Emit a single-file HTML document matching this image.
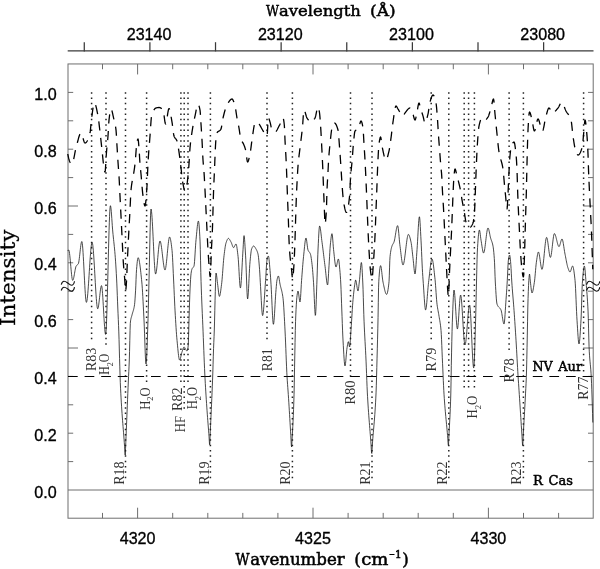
<!DOCTYPE html><html><head><meta charset="utf-8"><title>Spectrum</title>
<style>html,body{margin:0;padding:0;background:#fff}svg{display:block}.s{font-family:"Liberation Sans",sans-serif;font-size:16.1px;stroke:#000;stroke-width:0.32px}.r{font-family:"Liberation Serif",serif}.d{font-family:"DejaVu Serif","Liberation Serif",serif}.b{stroke:#000;stroke-width:0.5px}</style></head><body>
<svg width="600" height="569" viewBox="0 0 600 569">
<rect width="600" height="569" fill="#fff"/>
<g stroke="#6e6e6e" stroke-width="1" fill="none">
<rect x="68.0" y="63.95" width="525.2" height="454.25000000000006"/>
<line x1="68.0" y1="490" x2="593.2" y2="490"/>
<line x1="102.5" y1="518.2" x2="102.5" y2="512.9000000000001"/>
<line x1="102.5" y1="63.95" x2="102.5" y2="69.25"/>
<line x1="137.6" y1="518.2" x2="137.6" y2="507.70000000000005"/>
<line x1="137.6" y1="63.95" x2="137.6" y2="74.45"/>
<line x1="172.7" y1="518.2" x2="172.7" y2="512.9000000000001"/>
<line x1="172.7" y1="63.95" x2="172.7" y2="69.25"/>
<line x1="207.8" y1="518.2" x2="207.8" y2="512.9000000000001"/>
<line x1="207.8" y1="63.95" x2="207.8" y2="69.25"/>
<line x1="242.8" y1="518.2" x2="242.8" y2="512.9000000000001"/>
<line x1="242.8" y1="63.95" x2="242.8" y2="69.25"/>
<line x1="277.9" y1="518.2" x2="277.9" y2="512.9000000000001"/>
<line x1="277.9" y1="63.95" x2="277.9" y2="69.25"/>
<line x1="313.0" y1="518.2" x2="313.0" y2="507.70000000000005"/>
<line x1="313.0" y1="63.95" x2="313.0" y2="74.45"/>
<line x1="348.1" y1="518.2" x2="348.1" y2="512.9000000000001"/>
<line x1="348.1" y1="63.95" x2="348.1" y2="69.25"/>
<line x1="383.2" y1="518.2" x2="383.2" y2="512.9000000000001"/>
<line x1="383.2" y1="63.95" x2="383.2" y2="69.25"/>
<line x1="418.2" y1="518.2" x2="418.2" y2="512.9000000000001"/>
<line x1="418.2" y1="63.95" x2="418.2" y2="69.25"/>
<line x1="453.3" y1="518.2" x2="453.3" y2="512.9000000000001"/>
<line x1="453.3" y1="63.95" x2="453.3" y2="69.25"/>
<line x1="488.4" y1="518.2" x2="488.4" y2="507.70000000000005"/>
<line x1="488.4" y1="63.95" x2="488.4" y2="74.45"/>
<line x1="523.5" y1="518.2" x2="523.5" y2="512.9000000000001"/>
<line x1="523.5" y1="63.95" x2="523.5" y2="69.25"/>
<line x1="558.6" y1="518.2" x2="558.6" y2="512.9000000000001"/>
<line x1="558.6" y1="63.95" x2="558.6" y2="69.25"/>
<line x1="68.0" y1="461.6" x2="73.2" y2="461.6"/>
<line x1="593.2" y1="461.6" x2="588.0" y2="461.6"/>
<line x1="68.0" y1="433.2" x2="73.2" y2="433.2"/>
<line x1="593.2" y1="433.2" x2="588.0" y2="433.2"/>
<line x1="68.0" y1="404.8" x2="73.2" y2="404.8"/>
<line x1="593.2" y1="404.8" x2="588.0" y2="404.8"/>
<line x1="68.0" y1="376.4" x2="73.2" y2="376.4"/>
<line x1="593.2" y1="376.4" x2="588.0" y2="376.4"/>
<line x1="68.0" y1="348.0" x2="78.0" y2="348.0"/>
<line x1="593.2" y1="348.0" x2="583.2" y2="348.0"/>
<line x1="68.0" y1="319.6" x2="73.2" y2="319.6"/>
<line x1="593.2" y1="319.6" x2="588.0" y2="319.6"/>
<line x1="68.0" y1="291.2" x2="73.2" y2="291.2"/>
<line x1="593.2" y1="291.2" x2="588.0" y2="291.2"/>
<line x1="68.0" y1="262.8" x2="73.2" y2="262.8"/>
<line x1="593.2" y1="262.8" x2="588.0" y2="262.8"/>
<line x1="68.0" y1="234.4" x2="73.2" y2="234.4"/>
<line x1="593.2" y1="234.4" x2="588.0" y2="234.4"/>
<line x1="68.0" y1="206.0" x2="78.0" y2="206.0"/>
<line x1="593.2" y1="206.0" x2="583.2" y2="206.0"/>
<line x1="68.0" y1="177.6" x2="73.2" y2="177.6"/>
<line x1="593.2" y1="177.6" x2="588.0" y2="177.6"/>
<line x1="68.0" y1="149.2" x2="73.2" y2="149.2"/>
<line x1="593.2" y1="149.2" x2="588.0" y2="149.2"/>
<line x1="68.0" y1="120.8" x2="73.2" y2="120.8"/>
<line x1="593.2" y1="120.8" x2="588.0" y2="120.8"/>
<line x1="68.0" y1="92.4" x2="73.2" y2="92.4"/>
<line x1="593.2" y1="92.4" x2="588.0" y2="92.4"/>
</g>
<g stroke="#3a3a3a" stroke-width="1.25" fill="none">
<line x1="67.7" y1="50.85" x2="593.5" y2="50.85"/>
<line x1="84.28" y1="51.4" x2="84.28" y2="42.2"/>
<line x1="149.90" y1="51.4" x2="149.90" y2="42.2"/>
<line x1="215.52" y1="51.4" x2="215.52" y2="42.2"/>
<line x1="281.14" y1="51.4" x2="281.14" y2="42.2"/>
<line x1="346.76" y1="51.4" x2="346.76" y2="42.2"/>
<line x1="412.38" y1="51.4" x2="412.38" y2="42.2"/>
<line x1="478.00" y1="51.4" x2="478.00" y2="42.2"/>
<line x1="543.62" y1="51.4" x2="543.62" y2="42.2"/>
</g>
<g stroke="#222" stroke-width="1.5" stroke-dasharray="1.5 3.841" fill="none">
<line x1="91.6" y1="92.15" x2="91.6" y2="339.4"/>
<line x1="106.0" y1="92.15" x2="106.0" y2="344.7"/>
<line x1="125.5" y1="92.15" x2="125.5" y2="478.3"/>
<line x1="146.6" y1="92.15" x2="146.6" y2="382.1"/>
<line x1="180.9" y1="92.15" x2="180.9" y2="382.1"/>
<line x1="184.2" y1="92.15" x2="184.2" y2="408.8"/>
<line x1="188.0" y1="92.15" x2="188.0" y2="382.1"/>
<line x1="210.4" y1="92.15" x2="210.4" y2="478.3"/>
<line x1="267" y1="92.15" x2="267" y2="339.4"/>
<line x1="292.4" y1="92.15" x2="292.4" y2="478.3"/>
<line x1="350.5" y1="92.15" x2="350.5" y2="376.8"/>
<line x1="372.0" y1="92.15" x2="372.0" y2="478.3"/>
<line x1="431.2" y1="92.15" x2="431.2" y2="339.4"/>
<line x1="448.8" y1="92.15" x2="448.8" y2="478.3"/>
<line x1="464.2" y1="92.15" x2="464.2" y2="387.5"/>
<line x1="468.6" y1="92.15" x2="468.6" y2="387.5"/>
<line x1="474.4" y1="92.15" x2="474.4" y2="387.5"/>
<line x1="509.1" y1="92.15" x2="509.1" y2="350.1"/>
<line x1="523.4" y1="92.15" x2="523.4" y2="478.3"/>
<line x1="583.6" y1="92.15" x2="583.6" y2="371.4"/>
</g>
<line x1="68" y1="376.4" x2="593.2" y2="376.4" stroke="#000" stroke-width="1.05" stroke-dasharray="9.7 6.9"/>
<polyline points="67.80,251.00 68.05,250.46 68.30,250.15 68.55,250.02 68.80,250.06 69.05,250.66 69.30,251.85 69.55,253.53 69.80,255.63 70.05,258.05 70.30,260.70 70.55,263.49 70.80,266.34 71.05,269.15 71.30,271.83 71.55,274.31 71.80,276.48 72.05,278.25 72.30,279.55 72.55,280.27 72.80,280.37 73.05,280.05 73.30,279.41 73.55,278.51 73.80,277.40 74.05,276.13 74.30,274.76 74.55,273.32 74.80,271.87 75.05,270.47 75.30,269.16 75.55,267.99 75.80,267.02 76.05,266.30 76.30,265.85 76.55,265.53 76.80,265.28 77.05,265.08 77.30,264.89 77.55,264.69 77.80,264.46 78.05,264.17 78.30,263.80 78.55,263.11 78.80,261.94 79.05,260.38 79.30,258.51 79.55,256.42 79.80,254.19 80.05,251.91 80.30,249.65 80.55,247.51 80.80,245.57 81.05,243.92 81.30,242.63 81.55,241.80 81.80,241.50 82.05,242.02 82.30,243.50 82.55,245.83 82.80,248.88 83.05,252.55 83.30,256.70 83.55,261.24 83.80,266.03 84.05,270.96 84.30,275.91 84.55,280.77 84.80,285.42 85.05,289.74 85.30,293.62 85.55,296.93 85.80,299.56 86.05,301.40 86.30,302.31 86.55,302.28 86.80,301.56 87.05,300.24 87.30,298.38 87.55,296.06 87.80,293.32 88.05,290.23 88.30,286.84 88.55,283.23 88.80,279.45 89.05,275.55 89.30,271.61 89.55,267.68 89.80,263.82 90.05,260.10 90.30,256.57 90.55,253.30 90.80,250.34 91.05,247.76 91.30,245.61 91.55,243.97 91.80,242.88 92.05,242.41 92.30,242.65 92.55,243.62 92.80,245.25 93.05,247.48 93.30,250.24 93.55,253.45 93.80,257.04 94.05,260.95 94.30,265.09 94.55,269.41 94.80,273.82 95.05,278.27 95.30,282.67 95.55,286.95 95.80,291.06 96.05,294.90 96.30,298.42 96.55,301.55 96.80,304.21 97.05,306.32 97.30,307.83 97.55,308.66 97.80,308.75 98.05,308.25 98.30,307.25 98.55,305.84 98.80,304.09 99.05,302.10 99.30,299.92 99.55,297.66 99.80,295.38 100.05,293.16 100.30,291.08 100.55,289.23 100.80,287.67 101.05,286.50 101.30,285.79 101.55,285.62 101.80,286.35 102.05,288.00 102.30,290.45 102.55,293.56 102.80,297.21 103.05,301.25 103.30,305.56 103.55,310.00 103.80,314.44 104.05,318.75 104.30,322.79 104.55,326.44 104.80,329.55 105.05,332.00 105.30,333.65 105.55,334.38 105.80,333.75 106.05,331.22 106.30,326.98 106.55,321.26 106.80,314.27 107.05,306.24 107.30,297.38 107.55,287.90 107.80,278.03 108.05,267.99 108.30,257.99 108.55,248.25 108.80,238.99 109.05,230.43 109.30,222.79 109.55,216.29 109.80,211.13 110.05,207.55 110.30,205.77 110.55,205.80 110.80,206.97 111.05,209.00 111.30,211.72 111.55,214.94 111.80,218.47 112.05,222.13 112.30,225.73 112.55,229.08 112.80,232.00 113.05,234.56 113.30,236.99 113.55,239.35 113.80,241.67 114.05,244.01 114.30,246.41 114.55,248.94 114.80,251.63 115.05,254.53 115.30,257.70 115.55,261.17 115.80,264.95 116.05,269.02 116.30,273.39 116.55,278.06 116.80,283.08 117.05,288.93 117.30,295.33 117.55,301.84 117.80,308.01 118.05,313.76 118.30,319.44 118.55,325.38 118.80,331.93 119.05,339.66 119.30,348.97 119.55,358.29 119.80,366.86 120.05,375.30 120.30,382.62 120.55,388.20 120.80,393.21 121.05,397.86 121.30,402.19 121.55,406.23 121.80,410.02 122.05,413.59 122.30,417.00 122.55,420.28 122.80,423.45 123.05,426.58 123.30,429.68 123.55,432.80 123.80,435.98 124.05,439.26 124.30,442.67 124.55,446.26 124.80,450.66 125.05,455.01 125.30,455.03 125.55,448.27 125.80,442.34 126.05,436.40 126.30,430.37 126.55,424.26 126.80,418.12 127.05,411.96 127.30,405.82 127.55,399.72 127.80,393.70 128.05,387.78 128.30,382.00 128.55,376.61 128.80,371.49 129.05,366.13 129.30,360.00 129.55,351.36 129.80,340.61 130.05,330.39 130.30,323.34 130.55,320.88 130.80,319.39 131.05,318.26 131.30,317.37 131.55,316.58 131.80,315.76 132.05,314.79 132.30,313.84 132.55,312.99 132.80,312.19 133.05,311.41 133.30,310.60 133.55,309.73 133.80,308.74 134.05,307.59 134.30,306.25 134.55,304.64 134.80,302.22 135.05,298.93 135.30,295.05 135.55,290.85 135.80,285.83 136.05,279.43 136.30,273.38 136.55,269.40 136.80,266.50 137.05,263.80 137.30,261.46 137.55,259.58 137.80,258.29 138.05,257.72 138.30,257.80 138.55,258.22 138.80,258.92 139.05,259.89 139.30,261.11 139.55,262.55 139.80,264.20 140.05,266.03 140.30,268.01 140.55,270.13 140.80,272.37 141.05,274.69 141.30,277.09 141.55,279.53 141.80,282.00 142.05,284.82 142.30,288.25 142.55,292.19 142.80,296.55 143.05,301.22 143.30,306.10 143.55,311.08 143.80,316.07 144.05,321.00 144.30,326.88 144.55,333.76 144.80,341.07 145.05,348.24 145.30,354.69 145.55,359.84 145.80,363.12 146.05,363.95 146.30,362.45 146.55,359.06 146.80,354.14 147.05,348.03 147.30,341.07 147.55,333.61 147.80,325.98 148.05,318.48 148.30,309.43 148.55,298.90 148.80,288.07 149.05,278.07 149.30,267.48 149.55,255.90 149.80,244.10 150.05,232.87 150.30,222.97 150.55,215.19 150.80,210.31 151.05,209.02 151.30,209.79 151.55,211.57 151.80,214.21 152.05,217.61 152.30,221.64 152.55,226.17 152.80,231.07 153.05,236.22 153.30,241.50 153.55,246.78 153.80,251.93 154.05,256.83 154.30,261.36 154.55,265.39 154.80,268.79 155.05,271.43 155.30,273.21 155.55,273.98 155.80,273.80 156.05,273.04 156.30,271.76 156.55,270.05 156.80,267.98 157.05,265.61 157.30,263.03 157.55,260.30 157.80,257.50 158.05,254.70 158.30,251.97 158.55,249.39 158.80,247.02 159.05,244.95 159.30,243.24 159.55,241.96 159.80,241.20 160.05,241.01 160.30,241.30 160.55,241.98 160.80,242.99 161.05,244.30 161.30,245.86 161.55,247.63 161.80,249.57 162.05,251.63 162.30,253.76 162.55,255.93 162.80,258.10 163.05,260.21 163.30,262.22 163.55,264.10 163.80,265.79 164.05,267.26 164.30,268.45 164.55,269.34 164.80,269.86 165.05,269.99 165.30,269.60 165.55,268.70 165.80,267.35 166.05,265.63 166.30,263.58 166.55,261.28 166.80,258.80 167.05,256.18 167.30,253.50 167.55,250.82 167.80,248.20 168.05,245.72 168.30,243.42 168.55,241.37 168.80,239.65 169.05,238.30 169.30,237.40 169.55,237.01 169.80,237.12 170.05,237.60 170.30,238.41 170.55,239.52 170.80,240.88 171.05,242.48 171.30,244.26 171.55,246.21 171.80,248.28 172.05,250.47 172.30,253.58 172.55,257.78 172.80,262.74 173.05,268.14 173.30,273.66 173.55,278.99 173.80,284.17 174.05,289.71 174.30,295.38 174.55,300.97 174.80,306.21 175.05,310.89 175.30,315.29 175.55,319.58 175.80,323.72 176.05,327.65 176.30,331.34 176.55,334.74 176.80,337.81 177.05,340.52 177.30,343.16 177.55,345.83 177.80,348.47 178.05,351.00 178.30,353.35 178.55,355.46 178.80,357.24 179.05,358.64 179.30,359.58 179.55,359.99 179.80,359.89 180.05,359.46 180.30,358.77 180.55,357.88 180.80,356.85 181.05,355.75 181.30,354.64 181.55,353.58 181.80,352.64 182.05,351.86 182.30,351.08 182.55,350.25 182.80,349.42 183.05,348.64 183.30,347.96 183.55,347.42 183.80,347.09 184.05,347.00 184.30,347.11 184.55,347.35 184.80,347.70 185.05,348.13 185.30,348.60 185.55,349.10 185.80,349.59 186.05,350.05 186.30,350.45 186.55,350.76 186.80,350.95 187.05,350.99 187.30,350.66 187.55,349.88 187.80,348.68 188.05,347.11 188.30,344.63 188.55,337.25 188.80,327.29 189.05,318.42 189.30,310.24 189.55,302.12 189.80,294.79 190.05,288.96 190.30,283.96 190.55,279.52 190.80,275.97 191.05,273.63 191.30,271.95 191.55,270.61 191.80,269.59 192.05,268.88 192.30,268.39 192.55,268.03 192.80,267.75 193.05,267.51 193.30,267.25 193.55,266.92 193.80,266.48 194.05,265.84 194.30,264.22 194.55,261.49 194.80,257.98 195.05,253.98 195.30,249.83 195.55,245.82 195.80,242.29 196.05,239.50 196.30,236.91 196.55,234.22 196.80,231.55 197.05,228.98 197.30,226.61 197.55,224.53 197.80,222.85 198.05,221.66 198.30,221.06 198.55,221.23 198.80,222.54 199.05,224.86 199.30,228.04 199.55,231.89 199.80,236.26 200.05,241.08 200.30,249.46 200.55,260.82 200.80,272.41 201.05,281.56 201.30,288.94 201.55,295.70 201.80,301.97 202.05,307.91 202.30,313.67 202.55,319.38 202.80,325.18 203.05,331.23 203.30,337.53 203.55,343.96 203.80,350.40 204.05,356.73 204.30,362.86 204.55,368.65 204.80,374.01 205.05,378.87 205.30,383.45 205.55,387.79 205.80,391.93 206.05,395.90 206.30,399.73 206.55,403.46 206.80,407.11 207.05,410.72 207.30,414.19 207.55,417.51 207.80,420.73 208.05,423.88 208.30,427.00 208.55,430.15 208.80,433.36 209.05,436.72 209.30,441.09 209.55,444.81 209.80,444.54 210.05,437.32 210.30,431.36 210.55,425.75 210.80,420.29 211.05,414.91 211.30,409.53 211.55,404.08 211.80,398.48 212.05,392.67 212.30,386.56 212.55,380.09 212.80,373.06 213.05,364.78 213.30,356.20 213.55,348.62 213.80,342.49 214.05,336.70 214.30,330.00 214.55,321.06 214.80,310.57 215.05,300.31 215.30,291.60 215.55,282.50 215.80,275.23 216.05,273.02 216.30,273.70 216.55,275.15 216.80,277.12 217.05,279.36 217.30,281.62 217.55,283.65 217.80,285.51 218.05,287.68 218.30,289.97 218.55,292.17 218.80,294.10 219.05,295.55 219.30,296.33 219.55,296.31 219.80,295.77 220.05,294.82 220.30,293.52 220.55,291.95 220.80,290.18 221.05,288.28 221.30,286.32 221.55,284.38 221.80,282.30 222.05,279.74 222.30,276.78 222.55,273.57 222.80,270.21 223.05,266.84 223.30,263.57 223.55,260.52 223.80,257.83 224.05,255.59 224.30,253.53 224.55,251.53 224.80,249.62 225.05,247.84 225.30,246.23 225.55,244.84 225.80,243.70 226.05,242.85 226.30,242.11 226.55,241.40 226.80,240.74 227.05,240.13 227.30,239.59 227.55,239.14 227.80,238.78 228.05,238.53 228.30,238.41 228.55,238.42 228.80,238.54 229.05,238.76 229.30,239.05 229.55,239.41 229.80,239.82 230.05,240.26 230.30,240.73 230.55,241.20 230.80,241.65 231.05,242.09 231.30,242.60 231.55,243.22 231.80,243.91 232.05,244.63 232.30,245.35 232.55,246.02 232.80,246.62 233.05,247.11 233.30,247.45 233.55,247.60 233.80,247.53 234.05,247.27 234.30,246.86 234.55,246.35 234.80,245.80 235.05,245.25 235.30,244.74 235.55,244.33 235.80,244.07 236.05,244.01 236.30,244.42 236.55,245.33 236.80,246.65 237.05,248.31 237.30,250.20 237.55,252.24 237.80,254.34 238.05,256.43 238.30,259.25 238.55,262.95 238.80,267.21 239.05,271.73 239.30,276.23 239.55,280.39 239.80,283.92 240.05,286.51 240.30,287.87 240.55,287.75 240.80,286.33 241.05,283.83 241.30,280.44 241.55,276.38 241.80,271.85 242.05,267.06 242.30,262.20 242.55,257.48 242.80,253.11 243.05,249.24 243.30,244.76 243.55,240.11 243.80,236.63 244.05,235.63 244.30,236.76 244.55,239.21 244.80,242.63 245.05,246.67 245.30,250.98 245.55,255.20 245.80,259.77 246.05,265.84 246.30,272.81 246.55,280.04 246.80,286.91 247.05,292.77 247.30,296.99 247.55,298.94 247.80,298.43 248.05,296.30 248.30,292.90 248.55,288.57 248.80,283.63 249.05,278.42 249.30,273.27 249.55,268.51 249.80,264.48 250.05,261.48 250.30,258.85 250.55,256.30 250.80,253.93 251.05,251.87 251.30,250.24 251.55,249.14 251.80,248.50 252.05,247.91 252.30,247.39 252.55,246.93 252.80,246.56 253.05,246.27 253.30,246.08 253.55,246.00 253.80,246.03 254.05,246.16 254.30,246.37 254.55,246.66 254.80,246.99 255.05,247.38 255.30,247.79 255.55,248.22 255.80,248.66 256.05,249.08 256.30,249.51 256.55,249.96 256.80,250.46 257.05,251.02 257.30,251.65 257.55,252.38 257.80,253.23 258.05,254.22 258.30,255.69 258.55,257.71 258.80,260.19 259.05,263.03 259.30,266.11 259.55,269.34 259.80,273.06 260.05,277.66 260.30,282.32 260.55,286.51 260.80,291.04 261.05,295.82 261.30,300.57 261.55,305.07 261.80,309.07 262.05,312.31 262.30,314.56 262.55,315.57 262.80,315.31 263.05,314.19 263.30,312.33 263.55,309.85 263.80,306.84 264.05,303.44 264.30,299.73 264.55,295.85 264.80,291.89 265.05,287.96 265.30,284.18 265.55,280.66 265.80,277.08 266.05,272.88 266.30,268.54 266.55,264.57 266.80,261.49 267.05,259.76 267.30,258.65 267.55,257.67 267.80,256.87 268.05,256.31 268.30,256.03 268.55,256.21 268.80,257.37 269.05,259.34 269.30,261.88 269.55,264.75 269.80,267.72 270.05,270.56 270.30,273.68 270.55,277.21 270.80,280.96 271.05,284.78 271.30,289.20 271.55,294.33 271.80,299.84 272.05,305.45 272.30,310.84 272.55,315.72 272.80,319.79 273.05,322.73 273.30,324.26 273.55,324.16 273.80,322.79 274.05,320.39 274.30,317.16 274.55,313.33 274.80,309.10 275.05,304.69 275.30,300.31 275.55,296.17 275.80,292.48 276.05,289.43 276.30,286.49 276.55,283.63 276.80,281.27 277.05,279.77 277.30,278.68 277.55,277.70 277.80,276.90 278.05,276.32 278.30,276.03 278.55,276.14 278.80,276.89 279.05,278.13 279.30,279.67 279.55,281.33 279.80,282.91 280.05,284.24 280.30,285.37 280.55,286.40 280.80,287.37 281.05,288.30 281.30,289.24 281.55,290.20 281.80,291.23 282.05,292.35 282.30,293.59 282.55,294.99 282.80,296.58 283.05,298.39 283.30,300.85 283.55,304.03 283.80,307.80 284.05,312.03 284.30,316.60 284.55,321.36 284.80,326.18 285.05,330.96 285.30,336.22 285.55,342.07 285.80,348.29 286.05,354.64 286.30,360.90 286.55,366.84 286.80,372.24 287.05,376.86 287.30,380.82 287.55,384.37 287.80,387.71 288.05,391.03 288.30,394.52 288.55,398.30 288.80,402.20 289.05,406.20 289.30,410.27 289.55,414.40 289.80,418.57 290.05,422.77 290.30,426.97 290.55,431.17 290.80,435.34 291.05,439.96 291.30,445.14 291.55,446.91 291.80,444.31 292.05,439.75 292.30,435.29 292.55,430.93 292.80,426.30 293.05,421.27 293.30,415.70 293.55,409.44 293.80,402.36 294.05,394.19 294.30,382.07 294.55,367.83 294.80,355.10 295.05,342.43 295.30,330.59 295.55,321.37 295.80,315.10 296.05,309.60 296.30,304.84 296.55,300.89 296.80,297.81 297.05,295.62 297.30,293.82 297.55,292.29 297.80,291.28 298.05,291.02 298.30,291.67 298.55,293.04 298.80,294.87 299.05,296.91 299.30,298.90 299.55,300.58 299.80,301.69 300.05,301.96 300.30,300.56 300.55,297.58 300.80,293.57 301.05,289.05 301.30,284.57 301.55,280.67 301.80,277.41 302.05,274.16 302.30,270.92 302.55,267.74 302.80,264.66 303.05,261.73 303.30,258.98 303.55,256.47 303.80,254.08 304.05,251.58 304.30,249.03 304.55,246.55 304.80,244.21 305.05,242.12 305.30,240.36 305.55,239.02 305.80,238.21 306.05,238.02 306.30,238.63 306.55,239.93 306.80,241.71 307.05,243.75 307.30,245.83 307.55,247.73 307.80,249.23 308.05,250.13 308.30,250.69 308.55,251.14 308.80,251.49 309.05,251.80 309.30,252.09 309.55,252.40 309.80,252.75 310.05,253.19 310.30,253.74 310.55,254.48 310.80,255.56 311.05,256.94 311.30,258.58 311.55,260.40 311.80,262.37 312.05,264.42 312.30,266.77 312.55,269.49 312.80,272.51 313.05,275.76 313.30,279.18 313.55,282.74 313.80,287.27 314.05,292.76 314.30,298.66 314.55,304.43 314.80,309.50 315.05,313.35 315.30,315.40 315.55,315.00 315.80,311.70 316.05,306.21 316.30,299.33 316.55,291.88 316.80,284.65 317.05,277.88 317.30,270.12 317.55,262.09 317.80,254.73 318.05,248.98 318.30,243.79 318.55,238.66 318.80,233.96 319.05,230.05 319.30,227.29 319.55,226.04 319.80,226.20 320.05,226.98 320.30,228.24 320.55,229.89 320.80,231.83 321.05,233.95 321.30,236.16 321.55,238.37 321.80,240.47 322.05,242.36 322.30,244.23 322.55,246.15 322.80,248.13 323.05,250.15 323.30,252.20 323.55,254.27 323.80,256.34 324.05,258.41 324.30,260.46 324.55,262.48 324.80,264.46 325.05,266.39 325.30,268.49 325.55,270.80 325.80,273.22 326.05,275.64 326.30,277.98 326.55,280.14 326.80,282.01 327.05,283.51 327.30,284.53 327.55,284.99 327.80,284.30 328.05,281.80 328.30,278.05 328.55,273.64 328.80,269.19 329.05,265.26 329.30,261.17 329.55,256.75 329.80,252.34 330.05,248.31 330.30,245.02 330.55,242.60 330.80,240.29 331.05,238.12 331.30,236.23 331.55,234.76 331.80,233.84 332.05,233.63 332.30,234.73 332.55,237.03 332.80,240.10 333.05,243.51 333.30,246.81 333.55,249.56 333.80,251.76 334.05,254.09 334.30,256.47 334.55,258.82 334.80,261.04 335.05,263.04 335.30,264.73 335.55,266.01 335.80,266.80 336.05,266.99 336.30,266.66 336.55,265.93 336.80,264.93 337.05,263.75 337.30,262.50 337.55,261.30 337.80,260.25 338.05,259.46 338.30,259.04 338.55,259.18 338.80,260.21 339.05,261.98 339.30,264.30 339.55,266.96 339.80,269.77 340.05,272.56 340.30,275.75 340.55,279.58 340.80,284.00 341.05,289.52 341.30,296.17 341.55,303.23 341.80,310.00 342.05,316.64 342.30,323.49 342.55,330.11 342.80,336.05 343.05,340.88 343.30,345.39 343.55,349.90 343.80,354.21 344.05,358.14 344.30,361.47 344.55,364.02 344.80,365.59 345.05,365.97 345.30,365.13 345.55,363.32 345.80,360.81 346.05,357.88 346.30,354.83 346.55,351.93 346.80,349.47 347.05,347.70 347.30,346.14 347.55,344.61 347.80,343.24 348.05,342.21 348.30,341.65 348.55,341.83 348.80,343.00 349.05,344.64 349.30,346.16 349.55,346.97 349.80,346.38 350.05,344.17 350.30,340.83 350.55,336.90 350.80,332.90 351.05,329.32 351.30,325.70 351.55,321.78 351.80,317.68 352.05,313.56 352.30,309.54 352.55,305.76 352.80,302.36 353.05,299.46 353.30,296.85 353.55,294.37 353.80,292.05 354.05,289.87 354.30,287.84 354.55,285.97 354.80,284.26 355.05,282.69 355.30,281.05 355.55,280.04 355.80,280.22 356.05,281.02 356.30,282.26 356.55,283.81 356.80,285.50 357.05,287.19 357.30,288.74 357.55,289.98 357.80,290.78 358.05,290.98 358.30,290.20 358.55,288.59 358.80,286.46 359.05,284.15 359.30,282.00 359.55,279.71 359.80,276.91 360.05,273.85 360.30,270.74 360.55,267.82 360.80,265.32 361.05,263.47 361.30,262.49 361.55,262.77 361.80,264.84 362.05,268.35 362.30,272.84 362.55,277.87 362.80,283.00 363.05,289.28 363.30,297.34 363.55,306.07 363.80,314.39 364.05,321.22 364.30,326.94 364.55,332.13 364.80,336.96 365.05,341.57 365.30,346.14 365.55,350.81 365.80,355.75 366.05,361.12 366.30,367.17 366.55,373.68 366.80,380.25 367.05,386.51 367.30,392.06 367.55,396.71 367.80,400.98 368.05,404.99 368.30,408.78 368.55,412.36 368.80,415.78 369.05,419.08 369.30,422.27 369.55,425.40 369.80,428.50 370.05,431.60 370.30,434.74 370.55,437.95 370.80,441.26 371.05,444.74 371.30,449.22 371.55,453.00 371.80,453.43 372.05,450.12 372.30,445.57 372.55,441.95 372.80,438.72 373.05,435.67 373.30,432.74 373.55,429.87 373.80,427.02 374.05,424.13 374.30,421.15 374.55,418.01 374.80,414.66 375.05,411.06 375.30,407.13 375.55,402.84 375.80,398.12 376.05,392.87 376.30,385.82 376.55,377.08 376.80,367.56 377.05,358.16 377.30,348.85 377.55,339.17 377.80,328.86 378.05,317.54 378.30,302.23 378.55,287.83 378.80,281.29 379.05,277.37 379.30,273.97 379.55,271.12 379.80,268.84 380.05,267.15 380.30,266.07 380.55,265.61 380.80,265.85 381.05,266.79 381.30,268.29 381.55,270.21 381.80,272.40 382.05,274.70 382.30,276.98 382.55,279.10 382.80,280.89 383.05,282.23 383.30,283.42 383.55,284.63 383.80,285.83 384.05,287.02 384.30,288.17 384.55,289.27 384.80,290.31 385.05,291.26 385.30,292.12 385.55,292.87 385.80,293.48 386.05,293.95 386.30,294.26 386.55,294.40 386.80,294.30 387.05,293.90 387.30,293.21 387.55,292.25 387.80,291.02 388.05,289.55 388.30,287.86 388.55,285.94 388.80,283.83 389.05,281.42 389.30,275.83 389.55,267.90 389.80,260.54 390.05,256.52 390.30,254.34 390.55,252.48 390.80,250.90 391.05,249.56 391.30,248.42 391.55,247.45 391.80,246.61 392.05,245.86 392.30,245.22 392.55,244.70 392.80,244.26 393.05,243.86 393.30,243.45 393.55,243.01 393.80,242.49 394.05,241.86 394.30,241.00 394.55,239.91 394.80,238.63 395.05,237.22 395.30,235.71 395.55,234.15 395.80,232.59 396.05,231.08 396.30,229.67 396.55,228.39 396.80,227.30 397.05,226.44 397.30,225.86 397.55,225.61 397.80,225.89 398.05,226.98 398.30,228.74 398.55,231.00 398.80,233.61 399.05,236.41 399.30,239.24 399.55,241.95 399.80,244.37 400.05,246.37 400.30,248.31 400.55,250.36 400.80,252.47 401.05,254.59 401.30,256.66 401.55,258.62 401.80,260.41 402.05,261.99 402.30,263.29 402.55,264.26 402.80,264.85 403.05,264.99 403.30,264.73 403.55,264.11 403.80,263.18 404.05,261.98 404.30,260.53 404.55,258.88 404.80,257.07 405.05,255.12 405.30,253.08 405.55,250.97 405.80,248.85 406.05,246.74 406.30,244.68 406.55,242.71 406.80,240.87 407.05,239.18 407.30,237.69 407.55,236.44 407.80,235.45 408.05,234.77 408.30,234.43 408.55,234.44 408.80,234.66 409.05,235.05 409.30,235.61 409.55,236.31 409.80,237.12 410.05,238.03 410.30,239.01 410.55,240.05 410.80,241.13 411.05,242.23 411.30,243.61 411.55,245.35 411.80,247.35 412.05,249.54 412.30,251.82 412.55,254.12 412.80,256.33 413.05,258.41 413.30,260.71 413.55,263.28 413.80,265.94 414.05,268.49 414.30,270.77 414.55,272.56 414.80,273.70 415.05,273.97 415.30,273.03 415.55,270.96 415.80,268.02 416.05,264.47 416.30,260.56 416.55,256.57 416.80,252.76 417.05,249.34 417.30,245.61 417.55,241.34 417.80,236.77 418.05,232.14 418.30,227.71 418.55,223.70 418.80,220.37 419.05,217.96 419.30,216.72 419.55,216.96 419.80,218.95 420.05,222.31 420.30,226.62 420.55,231.43 420.80,236.32 421.05,240.89 421.30,245.90 421.55,251.51 421.80,257.35 422.05,263.04 422.30,268.18 422.55,272.52 422.80,276.40 423.05,279.96 423.30,283.37 423.55,287.04 423.80,290.90 424.05,294.80 424.30,298.58 424.55,302.07 424.80,305.12 425.05,307.56 425.30,309.24 425.55,309.98 425.80,309.74 426.05,308.75 426.30,307.12 426.55,304.97 426.80,302.41 427.05,299.55 427.30,296.50 427.55,293.38 427.80,290.30 428.05,287.37 428.30,284.70 428.55,282.40 428.80,280.38 429.05,278.23 429.30,276.00 429.55,273.73 429.80,271.47 430.05,269.26 430.30,267.16 430.55,265.19 430.80,263.42 431.05,261.88 431.30,260.62 431.55,259.70 431.80,259.14 432.05,259.01 432.30,259.32 432.55,260.04 432.80,261.12 433.05,262.51 433.30,264.18 433.55,266.06 433.80,268.13 434.05,270.32 434.30,272.59 434.55,274.90 434.80,277.20 435.05,279.46 435.30,282.13 435.55,285.31 435.80,288.80 436.05,292.42 436.30,295.97 436.55,299.28 436.80,302.15 437.05,304.40 437.30,306.24 437.55,307.86 437.80,309.32 438.05,310.68 438.30,312.00 438.55,313.34 438.80,314.76 439.05,316.32 439.30,317.83 439.55,319.27 439.80,320.70 440.05,322.21 440.30,323.87 440.55,325.76 440.80,327.96 441.05,330.58 441.30,334.48 441.55,339.66 441.80,345.61 442.05,351.82 442.30,357.79 442.55,363.27 442.80,368.94 443.05,374.71 443.30,380.38 443.55,385.75 443.80,390.61 444.05,394.78 444.30,398.50 444.55,401.97 444.80,405.23 445.05,408.30 445.30,411.22 445.55,414.01 445.80,416.70 446.05,419.33 446.30,421.92 446.55,424.51 446.80,427.12 447.05,429.79 447.30,432.54 447.55,435.41 447.80,438.83 448.05,442.72 448.30,445.32 448.55,444.17 448.80,438.30 449.05,433.05 449.30,428.43 449.55,423.95 449.80,419.33 450.05,414.29 450.30,408.57 450.55,401.90 450.80,394.00 451.05,381.17 451.30,365.34 451.55,352.92 451.80,341.59 452.05,331.37 452.30,322.82 452.55,316.02 452.80,309.40 453.05,303.15 453.30,297.68 453.55,293.40 453.80,290.71 454.05,290.03 454.30,290.86 454.55,292.73 454.80,295.46 455.05,298.86 455.30,302.74 455.55,306.93 455.80,311.22 456.05,315.44 456.30,319.39 456.55,322.91 456.80,325.79 457.05,327.85 457.30,328.90 457.55,328.78 457.80,327.54 458.05,325.36 458.30,322.44 458.55,318.98 458.80,315.17 459.05,311.20 459.30,307.27 459.55,303.58 459.80,300.31 460.05,297.67 460.30,295.84 460.55,295.02 460.80,295.30 461.05,296.46 461.30,298.39 461.55,300.99 461.80,304.13 462.05,307.71 462.30,311.62 462.55,315.76 462.80,320.00 463.05,324.24 463.30,328.38 463.55,332.29 463.80,335.87 464.05,339.01 464.30,341.61 464.55,343.54 464.80,344.70 465.05,344.99 465.30,344.51 465.55,343.42 465.80,341.79 466.05,339.70 466.30,337.22 466.55,334.44 466.80,331.42 467.05,328.25 467.30,325.00 467.55,321.75 467.80,318.58 468.05,315.56 468.30,312.78 468.55,310.30 468.80,308.21 469.05,306.58 469.30,305.49 469.55,305.01 469.80,305.44 470.05,307.11 470.30,309.88 470.55,313.58 470.80,318.03 471.05,323.07 471.30,328.51 471.55,334.20 471.80,339.95 472.05,345.60 472.30,350.98 472.55,355.91 472.80,360.23 473.05,363.75 473.30,366.32 473.55,367.75 473.80,367.78 474.05,365.43 474.30,360.89 474.55,354.62 474.80,347.10 475.05,338.79 475.30,330.14 475.55,321.64 475.80,312.60 476.05,301.68 476.30,290.34 476.55,280.04 476.80,269.68 477.05,259.74 477.30,252.04 477.55,247.52 477.80,243.62 478.05,240.06 478.30,236.92 478.55,234.28 478.80,232.20 479.05,230.77 479.30,230.07 479.55,230.18 479.80,231.14 480.05,232.73 480.30,234.69 480.55,236.77 480.80,238.71 481.05,240.28 481.30,241.80 481.55,243.42 481.80,245.08 482.05,246.74 482.30,248.32 482.55,249.77 482.80,251.02 483.05,252.02 483.30,252.69 483.55,252.99 483.80,252.85 484.05,252.27 484.30,251.30 484.55,250.01 484.80,248.44 485.05,246.64 485.30,244.69 485.55,242.62 485.80,240.50 486.05,238.38 486.30,236.31 486.55,234.36 486.80,232.56 487.05,230.99 487.30,229.70 487.55,228.73 487.80,228.15 488.05,228.01 488.30,228.26 488.55,228.83 488.80,229.65 489.05,230.67 489.30,231.84 489.55,233.09 489.80,234.37 490.05,235.63 490.30,236.79 490.55,237.82 490.80,238.68 491.05,239.44 491.30,240.14 491.55,240.82 491.80,241.50 492.05,242.23 492.30,243.03 492.55,243.95 492.80,245.02 493.05,246.27 493.30,247.88 493.55,249.92 493.80,252.39 494.05,255.27 494.30,258.57 494.55,262.79 494.80,269.26 495.05,276.31 495.30,282.00 495.55,286.37 495.80,290.63 496.05,294.60 496.30,298.12 496.55,300.99 496.80,303.05 497.05,304.15 497.30,304.82 497.55,305.39 497.80,305.87 498.05,306.27 498.30,306.61 498.55,306.90 498.80,307.15 499.05,307.39 499.30,307.61 499.55,307.84 499.80,308.09 500.05,308.38 500.30,308.71 500.55,309.10 500.80,309.57 501.05,310.12 501.30,310.96 501.55,312.09 501.80,313.46 502.05,314.98 502.30,316.58 502.55,318.19 502.80,319.74 503.05,321.16 503.30,322.36 503.55,323.28 503.80,323.85 504.05,323.97 504.30,323.06 504.55,321.03 504.80,318.14 505.05,314.62 505.30,310.74 505.55,306.74 505.80,302.85 506.05,299.32 506.30,295.84 506.55,292.20 506.80,288.40 507.05,284.45 507.30,280.23 507.55,275.07 507.80,269.54 508.05,264.52 508.30,260.88 508.55,259.01 508.80,257.50 509.05,256.26 509.30,255.40 509.55,255.01 509.80,255.42 510.05,256.89 510.30,259.06 510.55,261.51 510.80,264.43 511.05,268.50 511.30,273.17 511.55,277.87 511.80,282.00 512.05,285.53 512.30,288.84 512.55,291.98 512.80,295.03 513.05,298.03 513.30,301.03 513.55,304.11 513.80,307.31 514.05,310.69 514.30,314.19 514.55,317.77 514.80,321.43 515.05,325.16 515.30,328.97 515.55,332.84 515.80,336.79 516.05,340.81 516.30,345.01 516.55,349.39 516.80,353.88 517.05,358.43 517.30,362.96 517.55,367.40 517.80,371.71 518.05,375.80 518.30,379.69 518.55,383.45 518.80,387.13 519.05,390.79 519.30,394.49 519.55,398.28 519.80,402.11 520.05,405.97 520.30,409.85 520.55,413.73 520.80,417.62 521.05,421.49 521.30,425.35 521.55,429.19 521.80,432.99 522.05,436.80 522.30,441.52 522.55,445.46 522.80,445.54 523.05,439.66 523.30,434.06 523.55,429.36 523.80,424.83 524.05,420.40 524.30,416.03 524.55,411.65 524.80,407.21 525.05,402.67 525.30,397.95 525.55,393.14 525.80,388.54 526.05,383.60 526.30,377.74 526.55,369.99 526.80,359.29 527.05,347.19 527.30,335.05 527.55,321.23 527.80,307.99 528.05,298.47 528.30,291.39 528.55,285.42 528.80,280.72 529.05,277.44 529.30,274.87 529.55,274.05 529.80,275.55 530.05,278.29 530.30,281.11 530.55,283.24 530.80,285.48 531.05,287.77 531.30,289.88 531.55,291.59 531.80,292.70 532.05,292.99 532.30,292.74 532.55,292.15 532.80,291.28 533.05,290.17 533.30,288.87 533.55,287.42 533.80,285.86 534.05,284.26 534.30,282.64 534.55,280.93 534.80,278.72 535.05,276.10 535.30,273.25 535.55,270.32 535.80,267.48 536.05,264.89 536.30,262.72 536.55,260.98 536.80,259.25 537.05,257.54 537.30,255.93 537.55,254.50 537.80,253.32 538.05,252.47 538.30,252.04 538.55,252.09 538.80,252.60 539.05,253.50 539.30,254.72 539.55,256.19 539.80,257.85 540.05,259.62 540.30,261.42 540.55,263.21 540.80,264.89 541.05,266.40 541.30,267.68 541.55,268.65 541.80,269.24 542.05,269.39 542.30,269.01 542.55,268.14 542.80,266.83 543.05,265.16 543.30,263.18 543.55,260.95 543.80,258.54 544.05,256.00 544.30,253.40 544.55,250.80 544.80,248.26 545.05,245.85 545.30,243.62 545.55,241.64 545.80,239.97 546.05,238.66 546.30,237.79 546.55,237.41 546.80,237.56 547.05,238.17 547.30,239.19 547.55,240.52 547.80,242.12 548.05,243.91 548.30,245.83 548.55,247.79 548.80,249.75 549.05,251.62 549.30,253.34 549.55,254.85 549.80,256.06 550.05,256.92 550.30,257.36 550.55,257.30 550.80,256.73 551.05,255.72 551.30,254.33 551.55,252.63 551.80,250.69 552.05,248.59 552.30,246.39 552.55,244.16 552.80,241.98 553.05,239.90 553.30,238.01 553.55,236.37 553.80,235.05 554.05,234.11 554.30,233.64 554.55,233.64 554.80,233.88 555.05,234.31 555.30,234.90 555.55,235.63 555.80,236.48 556.05,237.42 556.30,238.42 556.55,239.47 556.80,240.52 557.05,241.57 557.30,242.59 557.55,243.54 557.80,244.41 558.05,245.17 558.30,245.79 558.55,246.25 558.80,246.53 559.05,246.59 559.30,246.39 559.55,245.93 559.80,245.27 560.05,244.46 560.30,243.56 560.55,242.61 560.80,241.68 561.05,240.80 561.30,240.05 561.55,239.46 561.80,239.10 562.05,239.01 562.30,239.29 562.55,239.93 562.80,240.88 563.05,242.07 563.30,243.47 563.55,245.01 563.80,246.63 564.05,248.30 564.30,249.94 564.55,251.52 564.80,252.97 565.05,254.24 565.30,255.49 565.55,256.79 565.80,258.11 566.05,259.43 566.30,260.75 566.55,262.04 566.80,263.28 567.05,264.46 567.30,265.55 567.55,266.54 567.80,267.41 568.05,268.14 568.30,268.83 568.55,269.53 568.80,270.19 569.05,270.80 569.30,271.31 569.55,271.70 569.80,271.94 570.05,271.99 570.30,271.78 570.55,271.31 570.80,270.65 571.05,269.85 571.30,269.00 571.55,268.15 571.80,267.35 572.05,266.69 572.30,266.22 572.55,266.01 572.80,266.14 573.05,266.66 573.30,267.55 573.55,268.76 573.80,270.24 574.05,271.97 574.30,273.90 574.55,275.98 574.80,278.18 575.05,280.49 575.30,283.85 575.55,288.42 575.80,293.85 576.05,299.75 576.30,305.76 576.55,311.50 576.80,316.62 577.05,320.76 577.30,324.71 577.55,328.78 577.80,332.77 578.05,336.45 578.30,339.63 578.55,342.08 578.80,343.60 579.05,343.98 579.30,343.19 579.55,341.42 579.80,338.82 580.05,335.56 580.30,331.80 580.55,327.70 580.80,323.43 581.05,319.09 581.30,313.00 581.55,305.24 581.80,296.96 582.05,289.33 582.30,283.54 582.55,280.10 582.80,277.07 583.05,274.25 583.30,271.72 583.55,269.56 583.80,267.85 584.05,266.65 584.30,266.06 584.55,266.25 584.80,267.63 585.05,269.96 585.30,272.92 585.55,276.22 585.80,279.54 586.05,282.58 586.30,285.43 586.55,288.30 586.80,291.28 587.05,294.45 587.30,297.92 587.55,301.78 587.80,306.12 588.05,311.10 588.30,318.60 588.55,328.15 588.80,337.99 589.05,346.39 589.30,351.85 589.55,355.81 589.80,359.02 590.05,361.76 590.30,364.30 590.55,366.91 590.80,369.86 591.05,373.44 591.30,377.91 591.55,383.39 591.80,389.80 592.05,397.02 592.30,404.94 592.55,413.47 592.80,422.50" fill="none" stroke="#1c1c1c" stroke-width="0.8" stroke-linejoin="round"/>
<polyline points="67.80,154.00 68.05,155.35 68.30,156.58 68.55,157.70 68.80,158.71 69.05,159.61 69.30,160.42 69.55,161.13 69.80,161.74 70.05,162.27 70.30,162.73 70.55,163.10 70.80,163.40 71.05,163.64 71.30,163.81 71.55,163.92 71.80,163.99 72.05,163.99 72.30,163.82 72.55,163.40 72.80,162.78 73.05,161.97 73.30,161.01 73.55,159.92 73.80,158.73 74.05,157.47 74.30,156.15 74.55,154.81 74.80,153.48 75.05,152.18 75.30,150.94 75.55,149.78 75.80,148.74 76.05,147.83 76.30,146.93 76.55,145.99 76.80,145.03 77.05,144.03 77.30,143.03 77.55,142.03 77.80,141.03 78.05,140.04 78.30,139.09 78.55,138.16 78.80,137.29 79.05,136.47 79.30,135.71 79.55,135.02 79.80,134.42 80.05,133.91 80.30,133.51 80.55,133.22 80.80,133.04 81.05,133.00 81.30,133.16 81.55,133.52 81.80,134.04 82.05,134.71 82.30,135.48 82.55,136.34 82.80,137.25 83.05,138.19 83.30,139.12 83.55,140.01 83.80,140.84 84.05,141.58 84.30,142.19 84.55,142.65 84.80,142.93 85.05,143.00 85.30,142.96 85.55,142.87 85.80,142.72 86.05,142.51 86.30,142.26 86.55,141.95 86.80,141.60 87.05,141.19 87.30,140.74 87.55,140.24 87.80,139.69 88.05,139.09 88.30,138.45 88.55,137.77 88.80,137.05 89.05,136.28 89.30,135.47 89.55,134.62 89.80,133.74 90.05,132.79 90.30,131.14 90.55,128.75 90.80,125.99 91.05,123.21 91.30,120.79 91.55,118.90 91.80,117.00 92.05,115.06 92.30,113.13 92.55,111.25 92.80,109.46 93.05,107.81 93.30,106.33 93.55,105.07 93.80,104.07 94.05,103.38 94.30,103.03 94.55,103.03 94.80,103.24 95.05,103.62 95.30,104.16 95.55,104.84 95.80,105.65 96.05,106.57 96.30,107.60 96.55,108.70 96.80,109.88 97.05,111.10 97.30,112.37 97.55,113.66 97.80,114.96 98.05,116.26 98.30,117.77 98.55,119.53 98.80,121.49 99.05,123.60 99.30,125.81 99.55,128.05 99.80,130.27 100.05,132.42 100.30,134.59 100.55,136.80 100.80,139.05 101.05,141.32 101.30,143.62 101.55,145.91 101.80,148.19 102.05,150.45 102.30,152.84 102.55,155.35 102.80,157.91 103.05,160.42 103.30,162.79 103.55,164.95 103.80,166.80 104.05,168.27 104.30,169.64 104.55,170.89 104.80,171.75 105.05,171.95 105.30,170.49 105.55,167.42 105.80,163.36 106.05,158.93 106.30,154.75 106.55,151.42 106.80,148.68 107.05,146.17 107.30,143.72 107.55,141.20 107.80,138.45 108.05,135.32 108.30,131.18 108.55,126.54 108.80,122.36 109.05,119.57 109.30,117.46 109.55,115.46 109.80,113.64 110.05,112.04 110.30,110.72 110.55,109.74 110.80,109.15 111.05,109.01 111.30,109.21 111.55,109.66 111.80,110.33 112.05,111.18 112.30,112.17 112.55,113.25 112.80,114.40 113.05,115.56 113.30,116.71 113.55,117.79 113.80,118.80 114.05,119.76 114.30,120.72 114.55,121.71 114.80,122.77 115.05,123.93 115.30,125.24 115.55,126.73 115.80,128.45 116.05,130.45 116.30,133.65 116.55,137.93 116.80,142.55 117.05,146.80 117.30,150.87 117.55,154.95 117.80,158.94 118.05,162.74 118.30,166.18 118.55,169.47 118.80,172.91 119.05,176.84 119.30,181.48 119.55,186.61 119.80,191.89 120.05,197.00 120.30,202.00 120.55,207.00 120.80,212.00 121.05,217.00 121.30,222.00 121.55,227.00 121.80,232.00 122.05,237.01 122.30,242.26 122.55,247.65 122.80,252.92 123.05,257.79 123.30,262.00 123.55,265.52 123.80,268.62 124.05,271.48 124.30,274.26 124.55,277.15 124.80,280.42 125.05,284.70 125.30,288.74 125.55,290.93 125.80,290.26 126.05,287.76 126.30,284.39 126.55,280.59 126.80,275.26 127.05,269.00 127.30,262.63 127.55,256.94 127.80,251.70 128.05,246.60 128.30,241.61 128.55,236.72 128.80,231.91 129.05,227.20 129.30,222.67 129.55,218.23 129.80,213.73 130.05,209.02 130.30,203.52 130.55,197.77 130.80,192.78 131.05,189.50 131.30,187.22 131.55,185.27 131.80,183.61 132.05,182.15 132.30,180.85 132.55,179.62 132.80,178.43 133.05,177.19 133.30,175.84 133.55,174.33 133.80,172.68 134.05,171.02 134.30,169.33 134.55,167.55 134.80,165.65 135.05,163.56 135.30,160.98 135.55,157.94 135.80,154.64 136.05,151.31 136.30,148.15 136.55,145.37 136.80,143.18 137.05,141.78 137.30,140.70 137.55,139.78 137.80,139.17 138.05,139.04 138.30,140.22 138.55,142.60 138.80,145.59 139.05,148.61 139.30,152.37 139.55,156.80 139.80,161.13 140.05,164.60 140.30,167.31 140.55,169.70 140.80,172.02 141.05,174.53 141.30,177.33 141.55,180.33 141.80,183.43 142.05,186.49 142.30,189.43 142.55,192.12 142.80,194.46 143.05,196.35 143.30,198.10 143.55,199.84 143.80,201.50 144.05,203.00 144.30,204.28 144.55,205.25 144.80,205.84 145.05,205.98 145.30,205.34 145.55,203.89 145.80,201.76 146.05,199.07 146.30,195.95 146.55,192.52 146.80,188.92 147.05,185.22 147.30,179.99 147.55,173.54 147.80,167.17 148.05,162.13 148.30,158.06 148.55,154.35 148.80,150.94 149.05,147.73 149.30,144.65 149.55,141.61 149.80,138.54 150.05,135.34 150.30,131.75 150.55,127.91 150.80,124.13 151.05,120.71 151.30,117.96 151.55,116.21 151.80,115.30 152.05,114.48 152.30,113.71 152.55,112.99 152.80,112.33 153.05,111.72 153.30,111.16 153.55,110.65 153.80,110.18 154.05,109.77 154.30,109.40 154.55,109.07 154.80,108.79 155.05,108.55 155.30,108.35 155.55,108.19 155.80,108.07 156.05,107.99 156.30,107.92 156.55,107.85 156.80,107.79 157.05,107.73 157.30,107.68 157.55,107.63 157.80,107.59 158.05,107.56 158.30,107.53 158.55,107.51 158.80,107.50 159.05,107.50 159.30,107.52 159.55,107.55 159.80,107.61 160.05,107.69 160.30,107.78 160.55,107.90 160.80,108.03 161.05,108.19 161.30,108.36 161.55,108.55 161.80,108.76 162.05,108.99 162.30,109.23 162.55,109.49 162.80,109.77 163.05,110.07 163.30,110.79 163.55,112.02 163.80,113.62 164.05,115.45 164.30,117.39 164.55,119.29 164.80,121.04 165.05,122.49 165.30,123.52 165.55,123.99 165.80,123.85 166.05,123.26 166.30,122.31 166.55,121.06 166.80,119.60 167.05,117.99 167.30,116.30 167.55,114.61 167.80,113.00 168.05,111.54 168.30,110.29 168.55,109.34 168.80,108.75 169.05,108.61 169.30,108.83 169.55,109.33 169.80,110.08 170.05,111.05 170.30,112.20 170.55,113.49 170.80,114.89 171.05,116.36 171.30,117.87 171.55,119.39 171.80,120.86 172.05,122.29 172.30,123.94 172.55,125.89 172.80,127.98 173.05,130.10 173.30,132.11 173.55,133.87 173.80,135.25 174.05,136.14 174.30,136.75 174.55,137.25 174.80,137.67 175.05,138.02 175.30,138.33 175.55,138.61 175.80,138.90 176.05,139.21 176.30,139.57 176.55,139.99 176.80,140.51 177.05,141.14 177.30,141.99 177.55,143.09 177.80,144.38 178.05,145.83 178.30,147.40 178.55,149.03 178.80,150.68 179.05,152.33 179.30,154.08 179.55,155.97 179.80,157.97 180.05,160.05 180.30,162.16 180.55,164.28 180.80,166.37 181.05,168.40 181.30,170.52 181.55,172.74 181.80,175.00 182.05,177.22 182.30,179.33 182.55,181.25 182.80,182.91 183.05,184.24 183.30,185.48 183.55,186.70 183.80,187.87 184.05,188.92 184.30,189.80 184.55,190.48 184.80,190.89 185.05,190.99 185.30,190.77 185.55,190.26 185.80,189.51 186.05,188.57 186.30,187.48 186.55,186.28 186.80,185.02 187.05,183.74 187.30,182.13 187.55,180.14 187.80,177.90 188.05,175.51 188.30,172.86 188.55,169.90 188.80,166.70 189.05,163.29 189.30,159.23 189.55,154.78 189.80,150.64 190.05,147.45 190.30,144.88 190.55,142.54 190.80,140.42 191.05,138.47 191.30,136.66 191.55,134.95 191.80,133.30 192.05,131.68 192.30,130.10 192.55,128.57 192.80,127.10 193.05,125.69 193.30,124.31 193.55,122.99 193.80,121.70 194.05,120.45 194.30,119.24 194.55,118.06 194.80,116.90 195.05,115.77 195.30,114.59 195.55,113.33 195.80,112.04 196.05,110.74 196.30,109.48 196.55,108.29 196.80,107.19 197.05,106.23 197.30,105.44 197.55,104.85 197.80,104.49 198.05,104.40 198.30,104.55 198.55,104.88 198.80,105.40 199.05,106.09 199.30,106.93 199.55,107.91 199.80,109.03 200.05,110.29 200.30,112.82 200.55,116.58 200.80,120.79 201.05,124.75 201.30,128.53 201.55,132.44 201.80,136.54 202.05,140.91 202.30,145.99 202.55,151.43 202.80,156.57 203.05,160.73 203.30,163.89 203.55,166.61 203.80,169.39 204.05,172.74 204.30,176.81 204.55,181.37 204.80,186.16 205.05,190.95 205.30,195.85 205.55,200.88 205.80,205.97 206.05,211.00 206.30,216.00 206.55,221.00 206.80,226.00 207.05,231.01 207.30,236.21 207.55,241.45 207.80,246.43 208.05,250.83 208.30,254.89 208.55,258.76 208.80,262.39 209.05,265.76 209.30,268.81 209.55,271.53 209.80,274.37 210.05,276.55 210.30,276.63 210.55,272.98 210.80,266.67 211.05,259.26 211.30,252.31 211.55,246.98 211.80,242.37 212.05,237.73 212.30,232.44 212.55,225.66 212.80,217.01 213.05,208.31 213.30,199.53 213.55,191.41 213.80,184.99 214.05,179.52 214.30,174.23 214.55,168.43 214.80,162.09 215.05,155.70 215.30,149.78 215.55,144.83 215.80,140.74 216.05,136.97 216.30,134.45 216.55,133.64 216.80,133.13 217.05,132.69 217.30,132.33 217.55,132.04 217.80,131.79 218.05,131.60 218.30,131.43 218.55,131.29 218.80,131.16 219.05,131.04 219.30,130.90 219.55,130.75 219.80,130.57 220.05,130.35 220.30,130.09 220.55,129.76 220.80,129.37 221.05,128.89 221.30,128.06 221.55,126.85 221.80,125.36 222.05,123.72 222.30,122.03 222.55,120.40 222.80,118.95 223.05,117.79 223.30,116.75 223.55,115.73 223.80,114.72 224.05,113.74 224.30,112.79 224.55,111.87 224.80,110.98 225.05,110.12 225.30,109.30 225.55,108.53 225.80,107.80 226.05,107.11 226.30,106.48 226.55,105.90 226.80,105.38 227.05,104.91 227.30,104.47 227.55,104.02 227.80,103.58 228.05,103.15 228.30,102.72 228.55,102.31 228.80,101.91 229.05,101.53 229.30,101.16 229.55,100.82 229.80,100.50 230.05,100.20 230.30,99.93 230.55,99.69 230.80,99.48 231.05,99.31 231.30,99.17 231.55,99.07 231.80,99.01 232.05,99.00 232.30,99.10 232.55,99.33 232.80,99.69 233.05,100.15 233.30,100.70 233.55,101.34 233.80,102.04 234.05,102.80 234.30,103.61 234.55,104.45 234.80,105.31 235.05,106.18 235.30,107.27 235.55,108.63 235.80,110.17 236.05,111.84 236.30,113.56 236.55,115.25 236.80,116.84 237.05,118.27 237.30,119.58 237.55,120.83 237.80,122.04 238.05,123.24 238.30,124.44 238.55,125.66 238.80,126.93 239.05,128.28 239.30,129.82 239.55,131.54 239.80,133.33 240.05,135.11 240.30,136.78 240.55,138.23 240.80,139.37 241.05,140.12 241.30,140.63 241.55,141.04 241.80,141.38 242.05,141.68 242.30,141.97 242.55,142.29 242.80,142.65 243.05,143.10 243.30,143.59 243.55,144.11 243.80,144.67 244.05,145.26 244.30,145.89 244.55,146.57 244.80,147.29 245.05,148.08 245.30,148.91 245.55,149.81 245.80,150.95 246.05,152.57 246.30,154.50 246.55,156.54 246.80,158.50 247.05,160.19 247.30,161.42 247.55,161.98 247.80,161.91 248.05,161.57 248.30,161.02 248.55,160.27 248.80,159.37 249.05,158.35 249.30,157.25 249.55,156.09 249.80,154.92 250.05,153.76 250.30,152.40 250.55,150.78 250.80,148.97 251.05,147.05 251.30,145.08 251.55,143.15 251.80,141.33 252.05,139.68 252.30,138.02 252.55,136.28 252.80,134.49 253.05,132.69 253.30,130.93 253.55,129.24 253.80,127.67 254.05,126.25 254.30,125.03 254.55,124.05 254.80,123.34 255.05,122.94 255.30,122.67 255.55,122.42 255.80,122.22 256.05,122.08 256.30,122.01 256.55,122.01 256.80,122.07 257.05,122.19 257.30,122.34 257.55,122.53 257.80,122.75 258.05,122.99 258.30,123.25 258.55,123.52 258.80,123.79 259.05,124.05 259.30,124.35 259.55,124.69 259.80,125.07 260.05,125.47 260.30,125.91 260.55,126.36 260.80,126.82 261.05,127.29 261.30,127.76 261.55,128.21 261.80,128.66 262.05,129.08 262.30,129.51 262.55,129.95 262.80,130.40 263.05,130.85 263.30,131.31 263.55,131.75 263.80,132.19 264.05,132.61 264.30,133.01 264.55,133.39 264.80,133.74 265.05,134.06 265.30,134.39 265.55,134.73 265.80,135.06 266.05,135.37 266.30,135.63 266.55,135.84 266.80,135.97 267.05,135.93 267.30,133.87 267.55,129.85 267.80,125.08 268.05,120.81 268.30,118.26 268.55,118.06 268.80,118.40 269.05,118.97 269.30,119.70 269.55,120.52 269.80,121.36 270.05,122.16 270.30,123.10 270.55,124.23 270.80,125.46 271.05,126.71 271.30,127.88 271.55,128.88 271.80,129.64 272.05,130.06 272.30,130.35 272.55,130.62 272.80,130.87 273.05,131.10 273.30,131.30 273.55,131.48 273.80,131.64 274.05,131.77 274.30,131.87 274.55,131.95 274.80,131.99 275.05,132.00 275.30,131.95 275.55,131.83 275.80,131.64 276.05,131.40 276.30,131.10 276.55,130.76 276.80,130.38 277.05,129.96 277.30,129.51 277.55,129.04 277.80,128.55 278.05,128.05 278.30,127.54 278.55,127.03 278.80,126.52 279.05,126.03 279.30,125.55 279.55,125.09 279.80,124.62 280.05,124.07 280.30,123.45 280.55,122.80 280.80,122.11 281.05,121.43 281.30,120.75 281.55,120.11 281.80,119.52 282.05,119.00 282.30,118.57 282.55,118.24 282.80,118.05 283.05,118.01 283.30,118.44 283.55,119.42 283.80,120.89 284.05,122.78 284.30,125.02 284.55,128.45 284.80,134.99 285.05,141.01 285.30,145.61 285.55,149.84 285.80,154.16 286.05,159.04 286.30,164.65 286.55,170.74 286.80,177.30 287.05,184.41 287.30,191.67 287.55,198.67 287.80,205.01 288.05,210.95 288.30,217.23 288.55,224.93 288.80,234.11 289.05,241.09 289.30,246.00 289.55,250.10 289.80,253.57 290.05,256.57 290.30,259.18 290.55,261.46 290.80,263.54 291.05,265.51 291.30,267.48 291.55,269.56 291.80,272.07 292.05,275.04 292.30,277.62 292.55,278.96 292.80,278.54 293.05,276.83 293.30,274.15 293.55,270.79 293.80,267.06 294.05,263.21 294.30,258.37 294.55,252.37 294.80,245.63 295.05,238.54 295.30,230.25 295.55,221.62 295.80,213.60 296.05,205.71 296.30,198.54 296.55,192.51 296.80,187.21 297.05,182.38 297.30,177.80 297.55,173.26 297.80,168.89 298.05,165.39 298.30,162.56 298.55,160.04 298.80,157.77 299.05,155.67 299.30,153.67 299.55,151.70 299.80,149.69 300.05,147.57 300.30,145.47 300.55,143.44 300.80,141.45 301.05,139.49 301.30,137.51 301.55,135.49 301.80,133.41 302.05,131.24 302.30,128.95 302.55,126.36 302.80,123.01 303.05,119.29 303.30,115.66 303.55,112.59 303.80,110.56 304.05,110.01 304.30,110.18 304.55,110.59 304.80,111.17 305.05,111.90 305.30,112.73 305.55,113.62 305.80,114.54 306.05,115.44 306.30,116.28 306.55,117.03 306.80,117.64 307.05,118.07 307.30,118.45 307.55,118.81 307.80,119.18 308.05,119.53 308.30,119.87 308.55,120.20 308.80,120.51 309.05,120.80 309.30,121.06 309.55,121.30 309.80,121.51 310.05,121.69 310.30,121.83 310.55,121.93 310.80,121.99 311.05,122.00 311.30,121.97 311.55,121.90 311.80,121.79 312.05,121.65 312.30,121.47 312.55,121.26 312.80,121.02 313.05,120.75 313.30,120.46 313.55,120.15 313.80,119.81 314.05,119.46 314.30,119.09 314.55,118.71 314.80,118.32 315.05,117.91 315.30,117.30 315.55,116.43 315.80,115.38 316.05,114.18 316.30,112.92 316.55,111.64 316.80,110.41 317.05,109.28 317.30,108.31 317.55,107.58 317.80,107.12 318.05,107.01 318.30,107.31 318.55,107.98 318.80,108.95 319.05,110.13 319.30,111.45 319.55,113.00 319.80,115.35 320.05,118.33 320.30,121.72 320.55,125.29 320.80,129.09 321.05,133.48 321.30,138.22 321.55,143.05 321.80,147.83 322.05,152.73 322.30,157.87 322.55,163.31 322.80,169.12 323.05,175.26 323.30,181.93 323.55,188.69 323.80,195.13 324.05,201.42 324.30,207.58 324.55,214.22 324.80,221.44 325.05,223.98 325.30,223.18 325.55,221.39 325.80,218.76 326.05,215.45 326.30,211.63 326.55,206.15 326.80,196.58 327.05,188.83 327.30,183.79 327.55,179.58 327.80,175.54 328.05,171.02 328.30,165.70 328.55,160.80 328.80,157.13 329.05,153.91 329.30,151.02 329.55,148.39 329.80,145.91 330.05,143.52 330.30,141.10 330.55,138.66 330.80,136.28 331.05,134.03 331.30,131.99 331.55,130.23 331.80,128.82 332.05,127.83 332.30,127.01 332.55,126.23 332.80,125.51 333.05,124.85 333.30,124.27 333.55,123.78 333.80,123.40 334.05,123.14 334.30,123.01 334.55,123.01 334.80,123.10 335.05,123.25 335.30,123.48 335.55,123.78 335.80,124.14 336.05,124.57 336.30,125.07 336.55,125.62 336.80,126.24 337.05,126.92 337.30,127.65 337.55,128.44 337.80,129.29 338.05,130.20 338.30,131.81 338.55,134.22 338.80,137.20 339.05,140.54 339.30,144.01 339.55,147.36 339.80,150.59 340.05,154.00 340.30,157.56 340.55,161.23 340.80,164.98 341.05,168.77 341.30,172.84 341.55,177.06 341.80,181.11 342.05,184.67 342.30,188.05 342.55,191.36 342.80,194.51 343.05,197.36 343.30,199.79 343.55,201.69 343.80,203.16 344.05,204.57 344.30,205.93 344.55,207.21 344.80,208.39 345.05,209.45 345.30,210.38 345.55,211.16 345.80,211.76 346.05,212.18 346.30,212.38 346.55,212.36 346.80,212.10 347.05,211.62 347.30,210.92 347.55,210.02 347.80,208.92 348.05,207.63 348.30,206.16 348.55,204.53 348.80,202.73 349.05,200.78 349.30,198.69 349.55,196.46 349.80,193.05 350.05,187.47 350.30,181.80 350.55,177.74 350.80,174.40 351.05,171.43 351.30,168.84 351.55,166.49 351.80,164.10 352.05,161.43 352.30,158.31 352.55,154.90 352.80,151.40 353.05,148.05 353.30,145.05 353.55,142.46 353.80,139.81 354.05,137.21 354.30,134.83 354.55,132.88 354.80,131.53 355.05,130.94 355.30,130.68 355.55,130.46 355.80,130.29 356.05,130.16 356.30,130.05 356.55,129.96 356.80,129.88 357.05,129.80 357.30,129.71 357.55,129.60 357.80,129.47 358.05,129.31 358.30,129.10 358.55,128.79 358.80,128.20 359.05,127.38 359.30,126.40 359.55,125.32 359.80,124.24 360.05,123.20 360.30,122.29 360.55,121.57 360.80,121.12 361.05,121.01 361.30,121.19 361.55,121.62 361.80,122.28 362.05,123.14 362.30,124.20 362.55,125.42 362.80,126.80 363.05,128.36 363.30,131.36 363.55,135.71 363.80,140.49 364.05,144.80 364.30,148.68 364.55,152.54 364.80,156.55 365.05,160.91 365.30,165.76 365.55,170.95 365.80,176.30 366.05,181.87 366.30,187.64 366.55,193.62 366.80,199.87 367.05,206.22 367.30,212.53 367.55,218.98 367.80,225.30 368.05,231.11 368.30,236.54 368.55,241.69 368.80,246.48 369.05,250.84 369.30,255.07 369.55,259.18 369.80,263.00 370.05,266.37 370.30,269.12 370.55,271.23 370.80,273.24 371.05,275.12 371.30,276.74 371.55,278.01 371.80,278.79 372.05,278.97 372.30,277.89 372.55,275.56 372.80,272.32 373.05,268.53 373.30,264.54 373.55,260.72 373.80,257.11 374.05,253.29 374.30,249.19 374.55,244.79 374.80,240.06 375.05,234.93 375.30,228.92 375.55,222.20 375.80,215.30 376.05,208.73 376.30,202.53 376.55,196.37 376.80,190.00 377.05,182.96 377.30,175.65 377.55,169.12 377.80,163.67 378.05,158.38 378.30,153.46 378.55,149.19 378.80,145.84 379.05,143.65 379.30,141.95 379.55,140.41 379.80,139.09 380.05,138.04 380.30,137.32 380.55,137.01 380.80,137.38 381.05,138.72 381.30,140.67 381.55,142.82 381.80,144.80 382.05,146.24 382.30,147.45 382.55,148.67 382.80,149.89 383.05,151.10 383.30,152.29 383.55,153.44 383.80,154.54 384.05,155.58 384.30,156.54 384.55,157.41 384.80,158.17 385.05,158.82 385.30,159.34 385.55,159.72 385.80,159.94 386.05,160.00 386.30,159.86 386.55,159.55 386.80,159.08 387.05,158.47 387.30,157.74 387.55,156.90 387.80,155.99 388.05,155.00 388.30,153.97 388.55,152.92 388.80,151.85 389.05,150.78 389.30,149.57 389.55,148.16 389.80,146.59 390.05,144.89 390.30,143.11 390.55,141.29 390.80,139.45 391.05,137.64 391.30,135.72 391.55,133.67 391.80,131.55 392.05,129.40 392.30,127.28 392.55,125.26 392.80,123.37 393.05,121.67 393.30,119.98 393.55,118.20 393.80,116.40 394.05,114.61 394.30,112.88 394.55,111.25 394.80,109.76 395.05,108.46 395.30,107.39 395.55,106.60 395.80,106.12 396.05,106.00 396.30,106.13 396.55,106.40 396.80,106.78 397.05,107.23 397.30,107.72 397.55,108.22 397.80,108.68 398.05,109.07 398.30,109.46 398.55,109.87 398.80,110.30 399.05,110.75 399.30,111.21 399.55,111.68 399.80,112.14 400.05,112.60 400.30,113.06 400.55,113.50 400.80,113.92 401.05,114.31 401.30,114.68 401.55,115.01 401.80,115.30 402.05,115.55 402.30,115.75 402.55,115.89 402.80,115.98 403.05,116.00 403.30,115.86 403.55,115.58 403.80,115.18 404.05,114.71 404.30,114.21 404.55,113.72 404.80,113.28 405.05,112.94 405.30,112.62 405.55,112.29 405.80,111.96 406.05,111.62 406.30,111.28 406.55,110.94 406.80,110.61 407.05,110.29 407.30,109.97 407.55,109.67 407.80,109.38 408.05,109.12 408.30,108.87 408.55,108.65 408.80,108.46 409.05,108.29 409.30,108.16 409.55,108.07 409.80,108.01 410.05,108.00 410.30,108.10 410.55,108.32 410.80,108.65 411.05,109.07 411.30,109.55 411.55,110.09 411.80,110.65 412.05,111.22 412.30,111.78 412.55,112.36 412.80,113.13 413.05,114.04 413.30,115.04 413.55,116.08 413.80,117.10 414.05,118.05 414.30,118.87 414.55,119.50 414.80,119.90 415.05,119.99 415.30,119.68 415.55,118.98 415.80,118.00 416.05,116.81 416.30,115.51 416.55,114.18 416.80,112.91 417.05,111.78 417.30,110.54 417.55,109.11 417.80,107.61 418.05,106.16 418.30,104.86 418.55,103.83 418.80,103.18 419.05,103.01 419.30,103.42 419.55,104.27 419.80,105.38 420.05,106.56 420.30,107.64 420.55,108.49 420.80,109.29 421.05,110.07 421.30,110.82 421.55,111.57 421.80,112.31 422.05,113.05 422.30,113.80 422.55,114.57 422.80,115.35 423.05,116.17 423.30,117.14 423.55,118.25 423.80,119.41 424.05,120.54 424.30,121.55 424.55,122.35 424.80,122.86 425.05,123.00 425.30,122.86 425.55,122.54 425.80,122.06 426.05,121.44 426.30,120.70 426.55,119.86 426.80,118.94 427.05,117.95 427.30,116.92 427.55,115.88 427.80,114.83 428.05,113.79 428.30,112.52 428.55,110.97 428.80,109.26 429.05,107.49 429.30,105.75 429.55,104.16 429.80,102.82 430.05,101.83 430.30,100.96 430.55,100.11 430.80,99.28 431.05,98.49 431.30,97.75 431.55,97.07 431.80,96.47 432.05,95.95 432.30,95.53 432.55,95.23 432.80,95.05 433.05,95.00 433.30,95.10 433.55,95.33 433.80,95.68 434.05,96.15 434.30,96.73 434.55,97.42 434.80,98.19 435.05,99.06 435.30,100.00 435.55,101.02 435.80,102.10 436.05,103.25 436.30,104.97 436.55,107.36 436.80,110.23 437.05,113.40 437.30,116.69 437.55,120.10 437.80,124.10 438.05,128.37 438.30,132.49 438.55,136.15 438.80,139.58 439.05,142.88 439.30,146.11 439.55,149.35 439.80,152.65 440.05,156.01 440.30,159.36 440.55,162.61 440.80,165.70 441.05,168.53 441.30,170.85 441.55,173.37 441.80,177.29 442.05,182.60 442.30,188.06 442.55,192.66 442.80,196.82 443.05,200.80 443.30,204.83 443.55,209.10 443.80,213.77 444.05,218.76 444.30,223.89 444.55,229.00 444.80,234.00 445.05,239.00 445.30,244.00 445.55,249.00 445.80,254.09 446.05,259.33 446.30,264.44 446.55,269.13 446.80,273.58 447.05,278.37 447.30,283.19 447.55,287.69 447.80,291.53 448.05,294.37 448.30,295.86 448.55,295.22 448.80,291.11 449.05,284.73 449.30,277.57 449.55,271.09 449.80,265.90 450.05,260.89 450.30,255.95 450.55,251.00 450.80,246.07 451.05,241.26 451.30,236.34 451.55,231.10 451.80,225.30 452.05,218.98 452.30,212.53 452.55,206.15 452.80,199.56 453.05,193.31 453.30,187.93 453.55,182.90 453.80,178.56 454.05,175.49 454.30,172.99 454.55,170.85 454.80,169.40 455.05,169.01 455.30,169.28 455.55,169.89 455.80,170.75 456.05,171.79 456.30,172.93 456.55,174.09 456.80,175.20 457.05,176.19 457.30,177.11 457.55,178.03 457.80,178.96 458.05,179.89 458.30,180.83 458.55,181.80 458.80,182.78 459.05,183.80 459.30,184.84 459.55,185.93 459.80,187.06 460.05,188.24 460.30,189.52 460.55,190.91 460.80,192.38 461.05,193.90 461.30,195.45 461.55,197.01 461.80,198.54 462.05,200.03 462.30,201.46 462.55,202.79 462.80,204.05 463.05,205.26 463.30,206.46 463.55,207.68 463.80,208.94 464.05,210.28 464.30,211.80 464.55,213.50 464.80,215.27 465.05,217.03 465.30,218.68 465.55,220.14 465.80,221.32 466.05,222.14 466.30,222.80 466.55,223.44 466.80,224.06 467.05,224.64 467.30,225.18 467.55,225.68 467.80,226.13 468.05,226.53 468.30,226.88 468.55,227.16 468.80,227.38 469.05,227.52 469.30,227.59 469.55,227.59 469.80,227.54 470.05,227.44 470.30,227.29 470.55,227.10 470.80,226.86 471.05,226.58 471.30,226.26 471.55,225.90 471.80,225.49 472.05,225.05 472.30,224.56 472.55,224.04 472.80,223.48 473.05,222.87 473.30,221.91 473.55,220.48 473.80,218.61 474.05,216.33 474.30,213.66 474.55,210.64 474.80,206.38 475.05,199.88 475.30,192.70 475.55,186.04 475.80,179.29 476.05,172.71 476.30,166.35 476.55,160.62 476.80,155.12 477.05,150.01 477.30,145.55 477.55,141.80 477.80,138.22 478.05,134.85 478.30,131.80 478.55,129.20 478.80,127.16 479.05,125.77 479.30,124.66 479.55,123.60 479.80,122.62 480.05,121.71 480.30,120.88 480.55,120.13 480.80,119.49 481.05,118.95 481.30,118.53 481.55,118.22 481.80,118.04 482.05,118.00 482.30,118.06 482.55,118.18 482.80,118.35 483.05,118.56 483.30,118.80 483.55,119.05 483.80,119.30 484.05,119.53 484.30,119.72 484.55,119.88 484.80,119.97 485.05,120.00 485.30,119.96 485.55,119.86 485.80,119.71 486.05,119.51 486.30,119.28 486.55,119.01 486.80,118.70 487.05,118.38 487.30,118.03 487.55,117.67 487.80,117.30 488.05,116.92 488.30,116.47 488.55,115.92 488.80,115.29 489.05,114.58 489.30,113.82 489.55,113.00 489.80,112.15 490.05,111.28 490.30,110.40 490.55,109.53 490.80,108.67 491.05,107.83 491.30,106.88 491.55,105.79 491.80,104.61 492.05,103.41 492.30,102.25 492.55,101.18 492.80,100.26 493.05,99.55 493.30,99.12 493.55,99.03 493.80,100.08 494.05,102.29 494.30,105.26 494.55,108.56 494.80,111.77 495.05,114.50 495.30,117.02 495.55,119.56 495.80,122.10 496.05,124.64 496.30,127.16 496.55,129.64 496.80,132.09 497.05,134.48 497.30,136.92 497.55,139.41 497.80,141.91 498.05,144.34 498.30,146.66 498.55,148.79 498.80,150.69 499.05,152.30 499.30,153.68 499.55,154.91 499.80,156.01 500.05,157.00 500.30,157.92 500.55,158.77 500.80,159.59 501.05,160.40 501.30,161.22 501.55,162.08 501.80,163.00 502.05,164.00 502.30,165.11 502.55,166.36 502.80,167.75 503.05,169.34 503.30,171.46 503.55,174.10 503.80,177.03 504.05,180.05 504.30,182.93 504.55,185.54 504.80,188.09 505.05,190.60 505.30,193.08 505.55,195.52 505.80,198.14 506.05,201.16 506.30,204.19 506.55,206.78 506.80,208.52 507.05,208.94 507.30,206.93 507.55,202.91 507.80,197.94 508.05,193.03 508.30,187.22 508.55,181.11 508.80,175.78 509.05,170.80 509.30,166.16 509.55,161.64 509.80,158.00 510.05,155.22 510.30,152.70 510.55,150.57 510.80,148.91 511.05,147.82 511.30,146.97 511.55,146.17 511.80,145.43 512.05,144.74 512.30,144.12 512.55,143.57 512.80,143.09 513.05,142.70 513.30,142.38 513.55,142.16 513.80,142.03 514.05,142.01 514.30,142.38 514.55,143.22 514.80,144.46 515.05,146.04 515.30,147.90 515.55,149.97 515.80,152.17 516.05,154.48 516.30,157.40 516.55,161.19 516.80,165.78 517.05,171.22 517.30,179.51 517.55,188.48 517.80,195.52 518.05,201.87 518.30,207.75 518.55,213.25 518.80,218.33 519.05,223.18 519.30,228.02 519.55,233.08 519.80,238.42 520.05,243.64 520.30,248.35 520.55,252.33 520.80,256.12 521.05,259.70 521.30,263.00 521.55,265.92 521.80,268.40 522.05,270.36 522.30,272.14 522.55,273.83 522.80,275.28 523.05,276.37 523.30,276.94 523.55,276.32 523.80,272.70 524.05,267.04 524.30,260.55 524.55,253.73 524.80,244.92 525.05,235.39 525.30,226.61 525.55,218.29 525.80,210.00 526.05,201.99 526.30,193.70 526.55,183.53 526.80,172.00 527.05,161.44 527.30,151.57 527.55,142.81 527.80,134.77 528.05,129.09 528.30,124.62 528.55,120.49 528.80,116.92 529.05,114.16 529.30,112.45 529.55,112.01 529.80,112.20 530.05,112.64 530.30,113.28 530.55,114.08 530.80,115.02 531.05,116.03 531.30,117.10 531.55,118.17 531.80,119.22 532.05,120.20 532.30,121.34 532.55,122.70 532.80,124.19 533.05,125.73 533.30,127.22 533.55,128.57 533.80,129.71 534.05,130.53 534.30,130.96 534.55,130.94 534.80,130.59 535.05,129.97 535.30,129.13 535.55,128.11 535.80,126.97 536.05,125.75 536.30,124.50 536.55,123.27 536.80,122.11 537.05,121.07 537.30,120.18 537.55,119.52 537.80,119.11 538.05,119.00 538.30,119.16 538.55,119.52 538.80,120.05 539.05,120.72 539.30,121.52 539.55,122.42 539.80,123.38 540.05,124.39 540.30,125.41 540.55,126.42 540.80,127.39 541.05,128.30 541.30,129.12 541.55,129.83 541.80,130.39 542.05,130.78 542.30,130.98 542.55,130.94 542.80,130.61 543.05,130.02 543.30,129.20 543.55,128.19 543.80,127.03 544.05,125.76 544.30,124.41 544.55,123.01 544.80,121.61 545.05,120.25 545.30,118.95 545.55,117.76 545.80,116.71 546.05,115.84 546.30,114.99 546.55,114.11 546.80,113.21 547.05,112.31 547.30,111.45 547.55,110.63 547.80,109.89 548.05,109.23 548.30,108.70 548.55,108.30 548.80,108.06 549.05,108.00 549.30,108.11 549.55,108.35 549.80,108.70 550.05,109.14 550.30,109.63 550.55,110.17 550.80,110.72 551.05,111.26 551.30,111.77 551.55,112.22 551.80,112.59 552.05,112.85 552.30,112.99 552.55,112.99 552.80,112.96 553.05,112.89 553.30,112.79 553.55,112.67 553.80,112.52 554.05,112.35 554.30,112.16 554.55,111.94 554.80,111.71 555.05,111.47 555.30,111.20 555.55,110.93 555.80,110.65 556.05,110.36 556.30,110.06 556.55,109.75 556.80,109.45 557.05,109.14 557.30,108.84 557.55,108.53 557.80,108.23 558.05,107.94 558.30,107.60 558.55,107.19 558.80,106.73 559.05,106.24 559.30,105.72 559.55,105.20 559.80,104.68 560.05,104.18 560.30,103.72 560.55,103.30 560.80,102.95 561.05,102.67 561.30,102.48 561.55,102.40 561.80,102.44 562.05,102.57 562.30,102.81 562.55,103.13 562.80,103.52 563.05,103.99 563.30,104.50 563.55,105.07 563.80,105.67 564.05,106.30 564.30,106.94 564.55,107.59 564.80,108.24 565.05,108.87 565.30,109.49 565.55,110.07 565.80,110.61 566.05,111.09 566.30,111.54 566.55,111.95 566.80,112.33 567.05,112.69 567.30,113.04 567.55,113.37 567.80,113.70 568.05,114.03 568.30,114.37 568.55,114.72 568.80,115.09 569.05,115.49 569.30,115.91 569.55,116.37 569.80,116.86 570.05,117.41 570.30,118.01 570.55,118.66 570.80,119.38 571.05,120.17 571.30,121.41 571.55,123.15 571.80,125.25 572.05,127.57 572.30,129.98 572.55,132.33 572.80,134.50 573.05,136.34 573.30,138.08 573.55,139.83 573.80,141.53 574.05,143.17 574.30,144.69 574.55,146.05 574.80,147.23 575.05,148.17 575.30,149.04 575.55,149.89 575.80,150.72 576.05,151.51 576.30,152.25 576.55,152.93 576.80,153.53 577.05,154.05 577.30,154.47 577.55,154.77 577.80,154.95 578.05,155.00 578.30,154.95 578.55,154.85 578.80,154.68 579.05,154.45 579.30,154.17 579.55,153.83 579.80,153.43 580.05,152.99 580.30,152.50 580.55,151.96 580.80,151.37 581.05,150.75 581.30,150.08 581.55,149.37 581.80,148.62 582.05,147.83 582.30,146.58 582.55,144.79 582.80,142.58 583.05,140.07 583.30,137.39 583.55,134.65 583.80,131.99 584.05,129.50 584.30,126.44 584.55,123.19 584.80,120.74 585.05,120.02 585.30,120.53 585.55,121.70 585.80,123.41 586.05,125.57 586.30,128.07 586.55,130.81 586.80,133.68 587.05,136.60 587.30,140.14 587.55,144.51 587.80,149.56 588.05,155.22 588.30,162.78 588.55,170.65 588.80,176.93 589.05,182.56 589.30,187.88 589.55,193.13 589.80,198.18 590.05,203.10 590.30,208.01 590.55,212.94 590.80,217.68 591.05,222.51 591.30,227.73 591.55,233.69 591.80,240.51 592.05,247.80 592.30,255.14 592.55,262.23 592.80,269.32" fill="none" stroke="#000" stroke-width="1.3" stroke-dasharray="9.2 7.4" stroke-linejoin="round"/>
<path d="M61.25,284.55 C62.00,282.05 63.00,281.25 64.00,281.25 C66.00,281.25 67.00,282.55 68.00,283.25 C69.50,284.45 70.50,285.25 71.50,285.25 C73.00,285.25 74.00,284.05 74.50,281.25" fill="none" stroke="#111" stroke-width="1.15"/>
<path d="M61.25,290.50 C62.00,288.00 63.00,287.20 64.00,287.20 C66.00,287.20 67.00,288.50 68.00,289.20 C69.50,290.40 70.50,291.20 71.50,291.20 C73.00,291.20 74.00,290.00 74.50,287.20" fill="none" stroke="#111" stroke-width="1.15"/>
<path d="M586.55,284.55 C587.30,282.05 588.30,281.25 589.30,281.25 C591.30,281.25 592.30,282.55 593.30,283.25 C594.80,284.45 595.80,285.25 596.80,285.25 C598.30,285.25 599.30,284.05 599.80,281.25" fill="none" stroke="#111" stroke-width="1.15"/>
<path d="M586.55,290.50 C587.30,288.00 588.30,287.20 589.30,287.20 C591.30,287.20 592.30,288.50 593.30,289.20 C594.80,290.40 595.80,291.20 596.80,291.20 C598.30,291.20 599.30,290.00 599.80,287.20" fill="none" stroke="#111" stroke-width="1.15"/>
<text class="s" x="56.6" y="100.0" text-anchor="end">1.0</text>
<text class="s" x="56.6" y="156.8" text-anchor="end">0.8</text>
<text class="s" x="56.6" y="213.6" text-anchor="end">0.6</text>
<text class="s" x="56.6" y="270.4" text-anchor="end">0.4</text>
<text class="s" x="56.6" y="327.2" text-anchor="end">0.6</text>
<text class="s" x="56.6" y="384.0" text-anchor="end">0.4</text>
<text class="s" x="56.6" y="440.8" text-anchor="end">0.2</text>
<text class="s" x="56.6" y="497.6" text-anchor="end">0.0</text>
<text class="s" x="137.6" y="543.5" text-anchor="middle">4320</text>
<text class="s" x="313" y="543.5" text-anchor="middle">4325</text>
<text class="s" x="488.4" y="543.5" text-anchor="middle">4330</text>
<text class="s" x="149.1" y="40" text-anchor="middle">23140</text>
<text class="s" x="280.3" y="40" text-anchor="middle">23120</text>
<text class="s" x="411.5" y="40" text-anchor="middle">23100</text>
<text class="s" x="542.7" y="40" text-anchor="middle">23080</text>
<text class="d b" x="265.9" y="16.4" font-size="15.6" textLength="13.0" lengthAdjust="spacingAndGlyphs">W</text>
<text class="d b" x="279.0" y="16.4" font-size="15.6" textLength="81.9" lengthAdjust="spacingAndGlyphs">avelength</text>
<text class="d b" x="370.0" y="16.4" font-size="15.6" textLength="25.6" lengthAdjust="spacingAndGlyphs">(Å)</text>
<text class="d b" x="235.5" y="565" font-size="16" textLength="14.0" lengthAdjust="spacingAndGlyphs">W</text>
<text class="d b" x="250.2" y="565" font-size="16" textLength="94.5" lengthAdjust="spacingAndGlyphs">avenumber</text>
<text class="d b" x="354.2" y="565" font-size="16.8">(</text>
<text class="d b" x="361.2" y="565" font-size="16" textLength="27.2" lengthAdjust="spacingAndGlyphs">cm</text>
<text class="d b" x="389.3" y="556.6" font-size="10.5" textLength="5.4" lengthAdjust="spacingAndGlyphs">–</text>
<text class="d b" x="394.9" y="558.3" font-size="10.5">1</text>
<text class="d b" x="402.2" y="565" font-size="16.8">)</text>
<text class="d" stroke="#000" stroke-width="0.3" transform="translate(15.0,326.0) rotate(-90)" font-size="21.2" textLength="96.3" lengthAdjust="spacingAndGlyphs">Intensity</text>
<text class="d b" x="532.5" y="371.2" font-size="13" textLength="20.2" lengthAdjust="spacingAndGlyphs">NV</text>
<text class="d b" x="558.2" y="371.2" font-size="13">Aur</text>
<text class="d b" x="533.0" y="484.8" font-size="13">R</text>
<text class="d b" x="548.6" y="484.8" font-size="13">Cas</text>
<text class="r" transform="translate(96.2,370.9) rotate(-90)" font-size="13.6" fill="#333" textLength="23.1" lengthAdjust="spacingAndGlyphs">R83</text>
<text class="r" transform="translate(123.8,484.7) rotate(-90)" font-size="13.6" fill="#333" textLength="23.3" lengthAdjust="spacingAndGlyphs">R18</text>
<text class="r" transform="translate(181.8,411.0) rotate(-90)" font-size="13.6" fill="#333" textLength="23.6" lengthAdjust="spacingAndGlyphs">R82</text>
<text class="r" transform="translate(184.7,432.2) rotate(-90)" font-size="13.6" fill="#333" textLength="16.1" lengthAdjust="spacingAndGlyphs">HF</text>
<text class="r" transform="translate(209.2,484.7) rotate(-90)" font-size="13.6" fill="#333" textLength="23.3" lengthAdjust="spacingAndGlyphs">R19</text>
<text class="r" transform="translate(272.0,371.2) rotate(-90)" font-size="13.6" fill="#333" textLength="22.8" lengthAdjust="spacingAndGlyphs">R81</text>
<text class="r" transform="translate(290.2,484.7) rotate(-90)" font-size="13.6" fill="#333" textLength="23.3" lengthAdjust="spacingAndGlyphs">R20</text>
<text class="r" transform="translate(355.2,404.7) rotate(-90)" font-size="13.6" fill="#333" textLength="24.3" lengthAdjust="spacingAndGlyphs">R80</text>
<text class="r" transform="translate(370.2,484.7) rotate(-90)" font-size="13.6" fill="#333" textLength="23.3" lengthAdjust="spacingAndGlyphs">R21</text>
<text class="r" transform="translate(436.2,371.5) rotate(-90)" font-size="13.6" fill="#333" textLength="23.8" lengthAdjust="spacingAndGlyphs">R79</text>
<text class="r" transform="translate(447.2,484.7) rotate(-90)" font-size="13.6" fill="#333" textLength="23.3" lengthAdjust="spacingAndGlyphs">R22</text>
<text class="r" transform="translate(513.7,382.4) rotate(-90)" font-size="13.6" fill="#333" textLength="24.0" lengthAdjust="spacingAndGlyphs">R78</text>
<text class="r" transform="translate(521.2,484.7) rotate(-90)" font-size="13.6" fill="#333" textLength="23.3" lengthAdjust="spacingAndGlyphs">R23</text>
<text class="r" transform="translate(588.4,399.7) rotate(-90)" font-size="13.6" fill="#333" textLength="23.3" lengthAdjust="spacingAndGlyphs">R77</text>
<text class="r" transform="translate(109.0,374.7) rotate(-90)" font-size="13.6" fill="#333" textLength="21.0" lengthAdjust="spacingAndGlyphs">H<tspan font-size="9" dy="3.6">2</tspan><tspan dy="-3.6">O</tspan></text>
<text class="r" transform="translate(149.8,409.8) rotate(-90)" font-size="13.6" fill="#333" textLength="22.4" lengthAdjust="spacingAndGlyphs">H<tspan font-size="9" dy="3.6">2</tspan><tspan dy="-3.6">O</tspan></text>
<text class="r" transform="translate(197.4,409.3) rotate(-90)" font-size="13.6" fill="#333" textLength="22.3" lengthAdjust="spacingAndGlyphs">H<tspan font-size="9" dy="3.6">2</tspan><tspan dy="-3.6">O</tspan></text>
<text class="r" transform="translate(476.9,418.5) rotate(-90)" font-size="13.6" fill="#333" textLength="22.8" lengthAdjust="spacingAndGlyphs">H<tspan font-size="9" dy="3.6">2</tspan><tspan dy="-3.6">O</tspan></text>
</svg></body></html>
